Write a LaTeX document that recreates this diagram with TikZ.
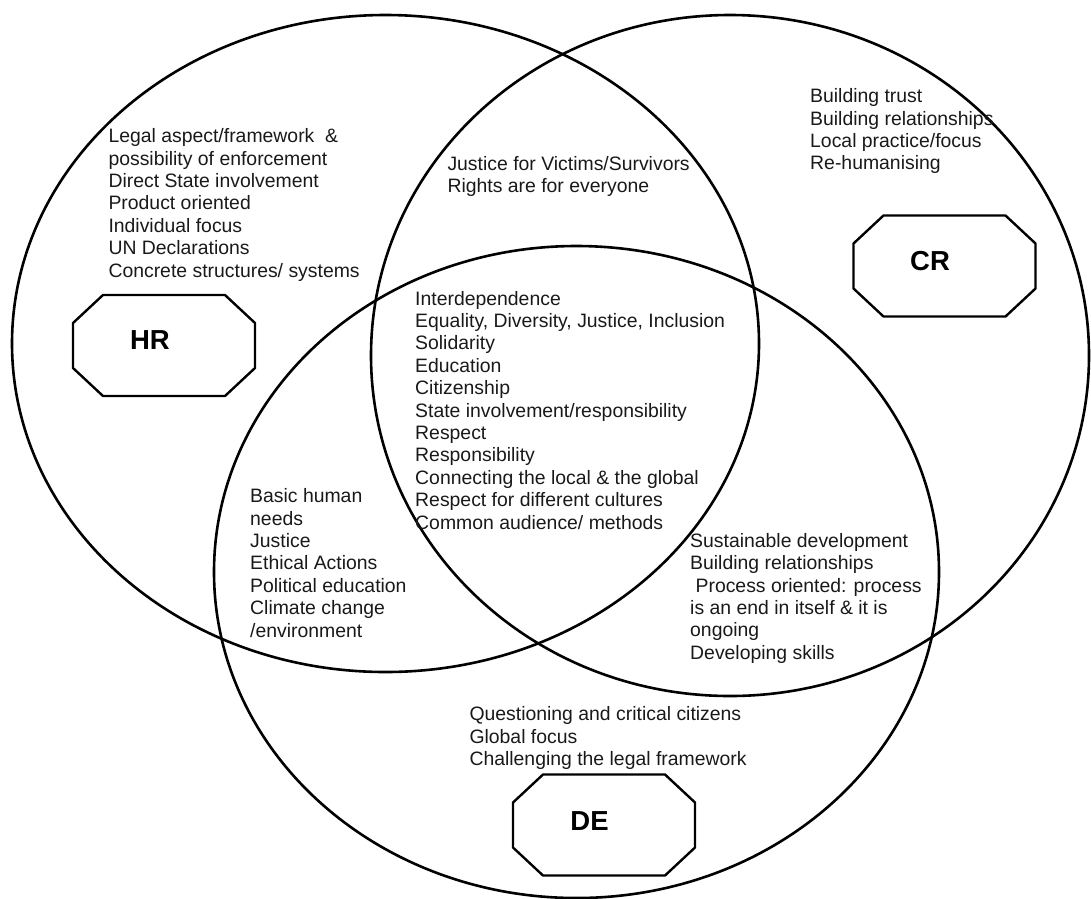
\documentclass[tikz,border=0pt]{standalone}
\usepackage{fontspec}
\setmainfont{Liberation Sans}
\colorlet{txtcol}{black!90}
\tikzset{
  ring/.style={line width=2.6pt, draw=black},
  octo/.style={line width=2.4pt, draw=black, line join=miter},
  txt/.style={anchor=base west, inner sep=0pt, text=txtcol, font=\fontsize{19.4}{22.4}\selectfont},
  lbl/.style={anchor=base, inner sep=0pt, font=\fontsize{27.5}{30}\selectfont\bfseries},
}
\newcommand\octagonat[1]{\draw[octo,shift={(#1)}] (-61,-50.5) -- (61,-50.5) -- (91,-22.5) -- (91,22.5) -- (61,50.5) -- (-61,50.5) -- (-91,22.5) -- (-91,-22.5) -- cycle;}
\begin{document}
\begin{tikzpicture}[x=1pt,y=-1pt]
\useasboundingbox (0,0) rectangle (1091,898);
% three rings
\draw[ring] (385.5,343.5) ellipse [x radius=373.5pt, y radius=328.5pt];
\draw[ring] (730,355.5) ellipse [x radius=359pt, y radius=340.5pt];
\draw[ring] (576.5,572) ellipse [x radius=362.5pt, y radius=326pt];
% label boxes
\octagonat{164,345.5}
\octagonat{944.5,266}
\octagonat{604,825}
\node[lbl] (hr) at (150,349.8) {HR};
\node[lbl] (cr) at (930,270) {CR};
\node[lbl] (de) at (589.5,830) {DE};
% texts
\node[txt] (hrtext) at (108.3,142.7) {\vtop{%
\hbox{Legal aspect/framework\ \ \&}
\hbox{possibility of enforcement}
\hbox{Direct State involvement}
\hbox{Product oriented}
\hbox{Individual focus}
\hbox{UN Declarations}
\hbox{Concrete structures/ systems}}};
\node[txt] (hrcrtext) at (447.3,170) {\vtop{%
\hbox{Justice for Victims/Survivors}
\hbox{Rights are for everyone}}};
\node[txt] (crtext) at (810,102.7) {\vtop{%
\hbox{Building trust}
\hbox{Building relationships}
\hbox{Local practice/focus}
\hbox{Re-humanising}}};
\node[txt] (alltext) at (415,305) {\vtop{%
\hbox{Interdependence}
\hbox{Equality, Diversity, Justice, Inclusion}
\hbox{Solidarity}
\hbox{Education}
\hbox{Citizenship}
\hbox{State involvement/responsibility}
\hbox{Respect}
\hbox{Responsibility}
\hbox{Connecting the local \& the global}
\hbox{Respect for different cultures}
\hbox{Common audience/ methods}}};
\node[txt] (hrdetext) at (250,502.7) {\vtop{%
\hbox{Basic human}
\hbox{needs}
\hbox{Justice}
\hbox{Ethical Actions}
\hbox{Political education}
\hbox{Climate change}
\hbox{/environment}}};
\node[txt] (crdetext) at (690,547.3) {\vtop{%
\hbox{Sustainable development}
\hbox{Building relationships}
\hbox{\ Process oriented: process}
\hbox{is an end in itself \& it is}
\hbox{ongoing}
\hbox{Developing skills}}};
\node[txt] (detext) at (469.3,720.7) {\vtop{%
\hbox{Questioning and critical citizens}
\hbox{Global focus}
\hbox{Challenging the legal framework}}};
\end{tikzpicture}
\end{document}
